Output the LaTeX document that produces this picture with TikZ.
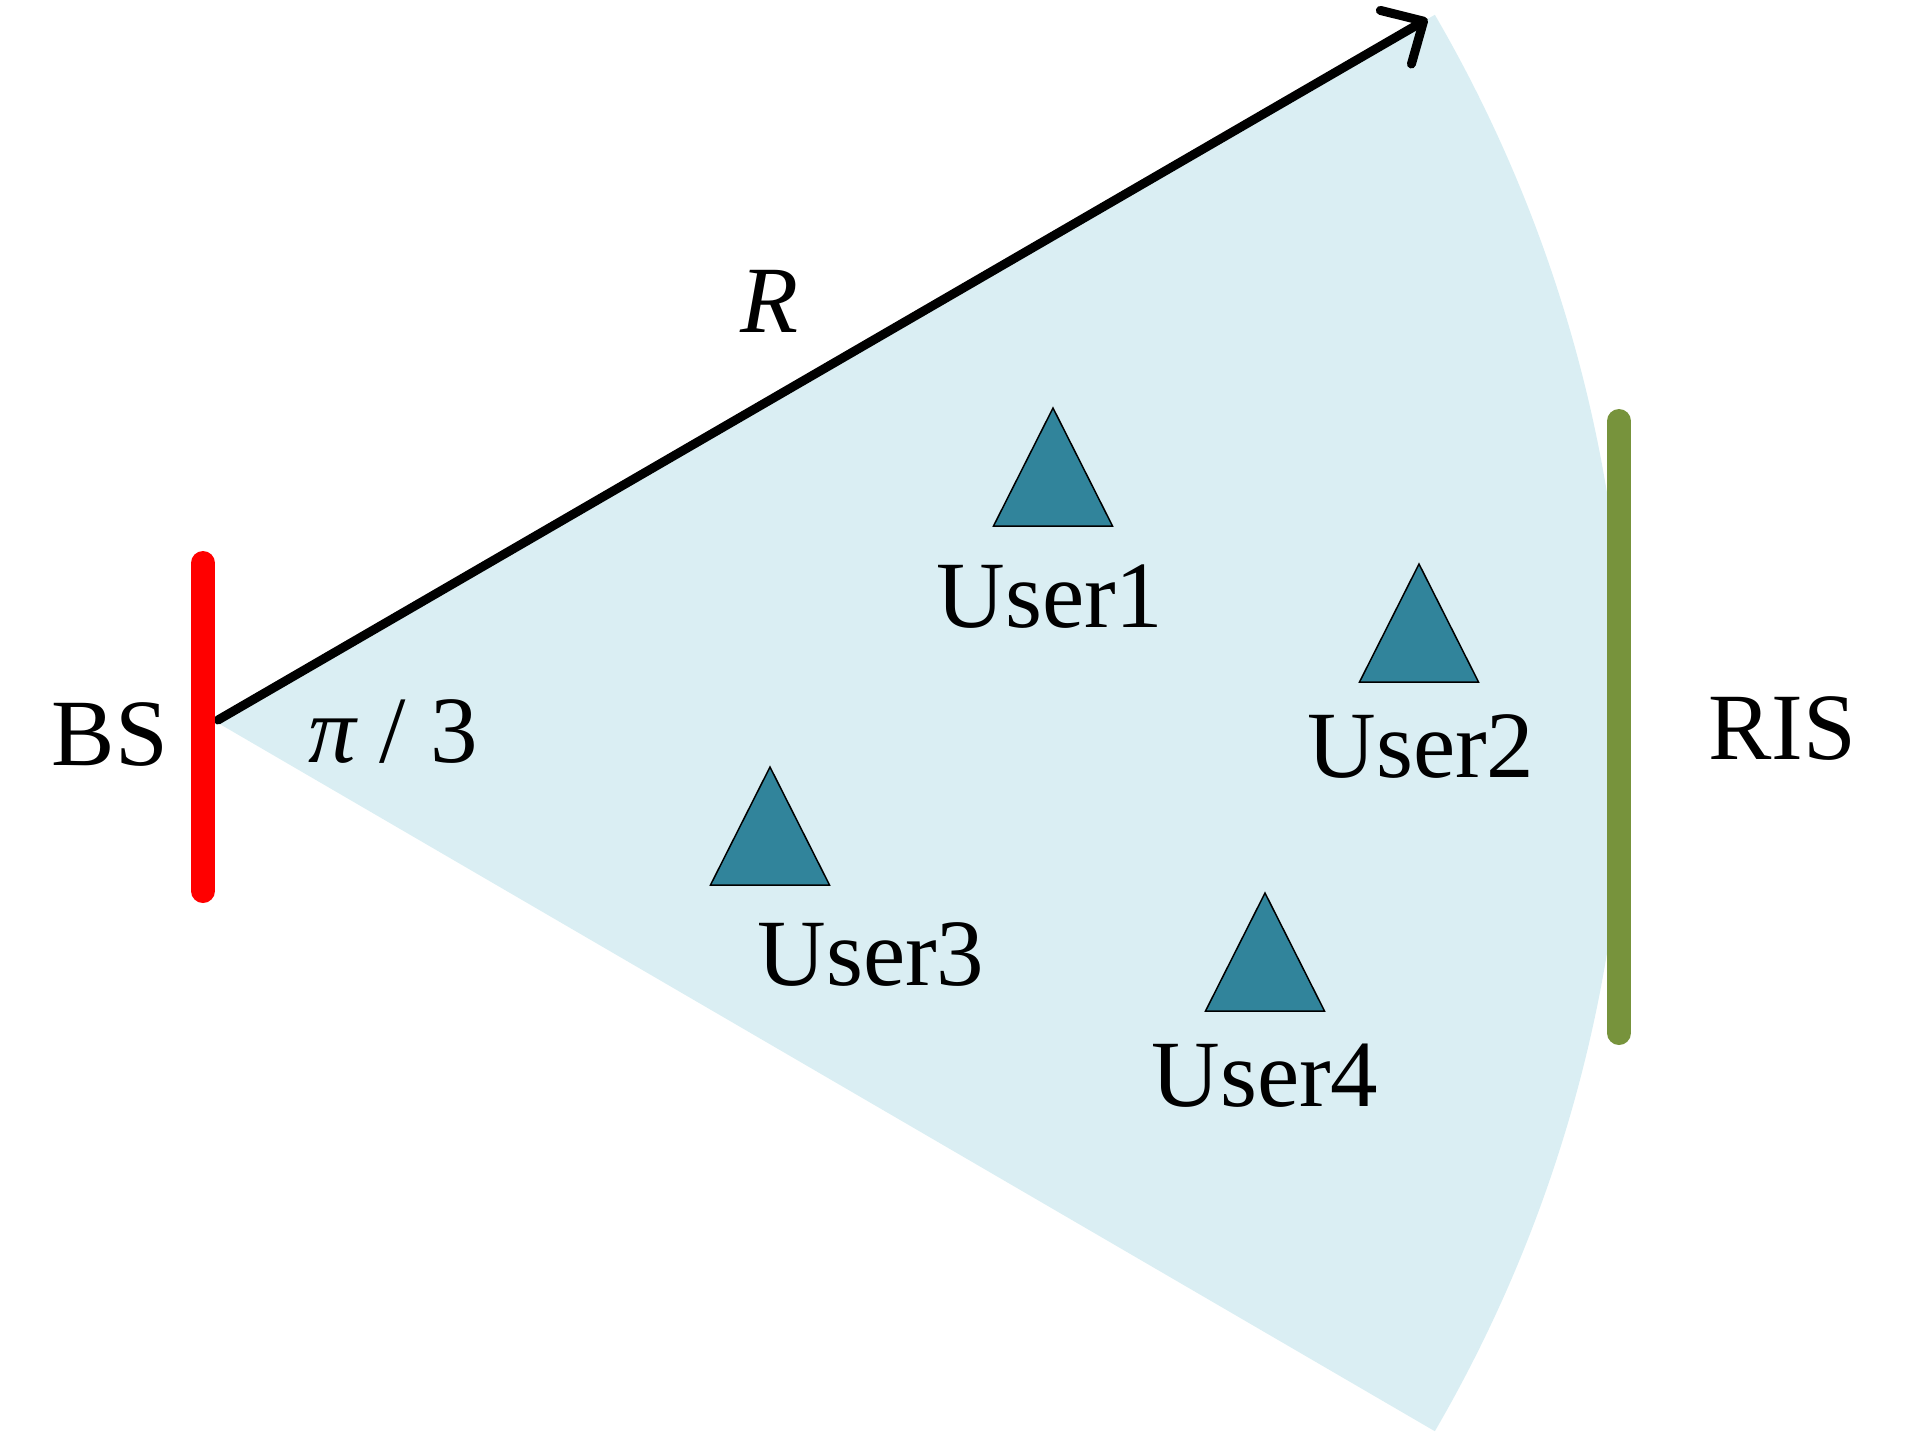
\documentclass[tikz,border=0pt]{standalone}
\usepackage{fontspec}
\setmainfont{Liberation Serif}
\usetikzlibrary{arrows.meta,calc}
\definecolor{sectorblue}{HTML}{DAEEF3}
\definecolor{userteal}{HTML}{31849B}
\definecolor{risgreen}{HTML}{77933C}
\definecolor{bsred}{HTML}{FF0000}
\begin{document}
\begin{tikzpicture}[x=1pt,y=-1pt,
  lbl/.style={font=\fontsize{95}{110}\selectfont, inner sep=0pt, anchor=base},
  usertri/.style={fill=userteal, draw=black, line width=1.5pt, line join=miter},
  radius arrow/.style={draw=black, line width=9pt, line cap=round,
     -{Straight Barb[length=32pt,width=62pt,round]}},
  bar/.style={line width=24pt, line cap=round}]
\useasboundingbox (0,0) rectangle (1913,1438);
\coordinate (apex) at (218,720);
\coordinate (sc) at (218,723);
\coordinate (tip) at ($(apex)+(-30.1:1398)$);
% sector
\fill[sectorblue] (sc) -- ++(-30.2:1408) arc[start angle=-30.2,end angle=30.2,radius=1408] -- cycle;
% radius arrow
\draw[radius arrow] (apex) -- (tip);
% bars
\coordinate (bstop) at (203,563);
\coordinate (bsbot) at (203,891);
\draw[bar, bsred] (bstop) -- (bsbot);
\coordinate (ristop) at (1619,421);
\coordinate (risbot) at (1619,1033);
\draw[bar, risgreen] (ristop) -- (risbot);
% users
\foreach \n/\x/\y in {1/1053/408, 2/1419/564, 3/770/767, 4/1265/893}{
  \coordinate (u\n) at (\x,\y);
  \filldraw[usertri] (u\n) -- ++(59.5,118) -- ++(-119,0) -- cycle;
}
\node[lbl] (l1) at (1050,627) {User1};
\node[lbl] (l2) at (1421,777) {User2};
\node[lbl] (l3) at (871,985) {User3};
\node[lbl] (l4) at (1265,1106) {User4};
\node[lbl] (bs) at (110,765) {BS};
\node[lbl] (ris) at (1782,759) {RIS};
\node[lbl] (r) at (770,332) {\itshape R};
\node[lbl] (ang) at (393,762) {{\itshape π} / 3};
\end{tikzpicture}
\end{document}
